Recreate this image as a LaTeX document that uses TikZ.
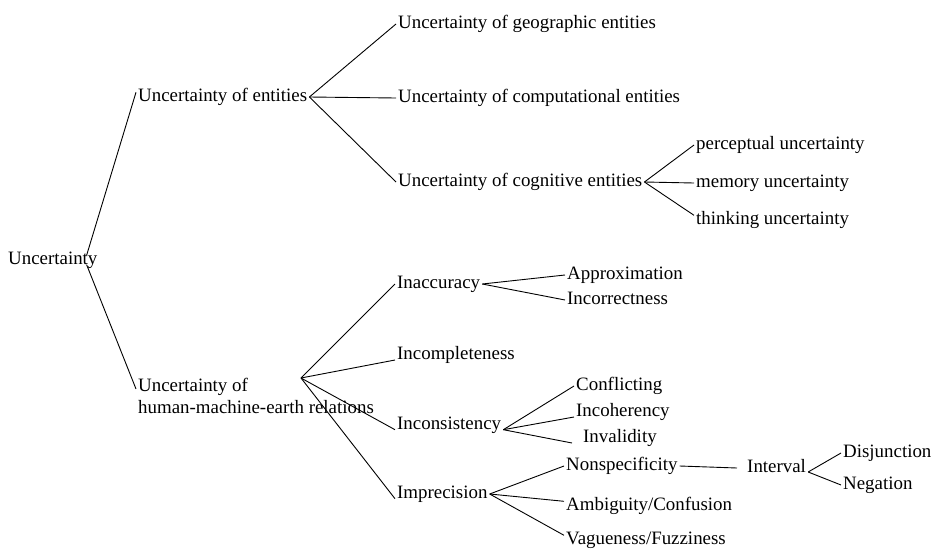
\documentclass[tikz,border=0pt]{standalone}
\usepackage{fontspec}
\setmainfont{Liberation Serif}
\begin{document}
\begin{tikzpicture}[
    x=1pt, y=-1pt,
    every node/.style={inner xsep=2pt, inner ysep=0pt, anchor=west, font=\fontsize{18.9}{22}\selectfont},
    term/.style={text height=0.86em, text depth=0.04em}, % mesma altura para todos
    link/.style={draw, line width=0.9pt}
    ]
    \useasboundingbox (0,0) rectangle (935,552);
    \node[term] (root) at (6,260) {Uncertainty};
    \node[term] (ue) at (136,97) {Uncertainty of entities};
    \node[align=left, anchor=north west] (hm) at (136,378) {Uncertainty of\\human-machine-earth relations};
    \coordinate (hmfork) at (301,378);
    % entidades
    \node[term] (geo) at (396,24) {Uncertainty of geographic entities};
    \node[term] (comp) at (396,98) {Uncertainty of computational entities};
    \node[term] (cog) at (396,182) {Uncertainty of cognitive entities};
    \node[term] (perc) at (694,145) {perceptual uncertainty};
    \node[term] (mem) at (694,183) {memory uncertainty};
    \node[term] (think) at (694,220) {thinking uncertainty};
    % relacoes
    \node[term] (inacc) at (395,284) {Inaccuracy};
    \node[term] (incomp) at (395,355) {Incompleteness};
    \node[term] (incons) at (395,425) {Inconsistency};
    \node[term] (impr) at (395,494) {Imprecision};
    \node[term] (appr) at (565,275) {Approximation};
    \node[term] (incorr) at (565,300) {Incorrectness};
    \node[term] (confl) at (574,386) {Conflicting};
    \node[term] (incoh) at (574,412) {Incoherency};
    \node[term] (inval) at (581,438) {Invalidity};
    \node[term] (nonsp) at (564,466) {Nonspecificity};
    \node[term] (ambig) at (564,506) {Ambiguity/Confusion};
    \node[term] (vague) at (564,540) {Vagueness/Fuzziness};
    \node[term] (interval) at (745,468) {Interval};
    \node[term] (disj) at (841,453) {Disjunction};
    \node[term] (neg) at (841,485) {Negation};

    \draw[link] ([xshift=-13pt]root.north east) -- (ue.north west);
    \draw[link] ([xshift=-13pt]root.south east) -- ([yshift=7pt]hm.west);
    \foreach \c in {geo,comp,cog} \draw[link] (ue.east) -- (\c.west);
    \draw[link] (cog.east) -- (perc.west);
    \draw[link] (cog.east) -- (mem.west);
    \draw[link] (cog.east) -- (think.north west);
    \draw[link] (hmfork) -- (inacc.west);
    \draw[link] (hmfork) -- ([yshift=-5pt]incomp.west);
    \draw[link] (hmfork) -- (incons.south west);
    \draw[link] (hmfork) -- (impr.south west);
    \draw[link] (inacc.east) -- (appr.west);
    \draw[link] (inacc.east) -- (incorr.west);
    \draw[link] (incons.south east) -- (confl.west);
    \draw[link] (incons.south east) -- ([yshift=-5pt]incoh.west);
    \draw[link] (incons.south east) -- ([xshift=-9pt,yshift=-5pt]inval.west);
    \draw[link] (impr.east) -- (nonsp.west);
    \draw[link] (impr.east) -- (ambig.north west);
    \draw[link] (impr.east) -- (vague.north west);
    \draw[link] (nonsp.east) -- ([xshift=-8pt]interval.west);
    \draw[link] ([yshift=-4pt]interval.east) -- (disj.west);
    \draw[link] ([yshift=-4pt]interval.east) -- (neg.west);
\end{tikzpicture}
\end{document}
